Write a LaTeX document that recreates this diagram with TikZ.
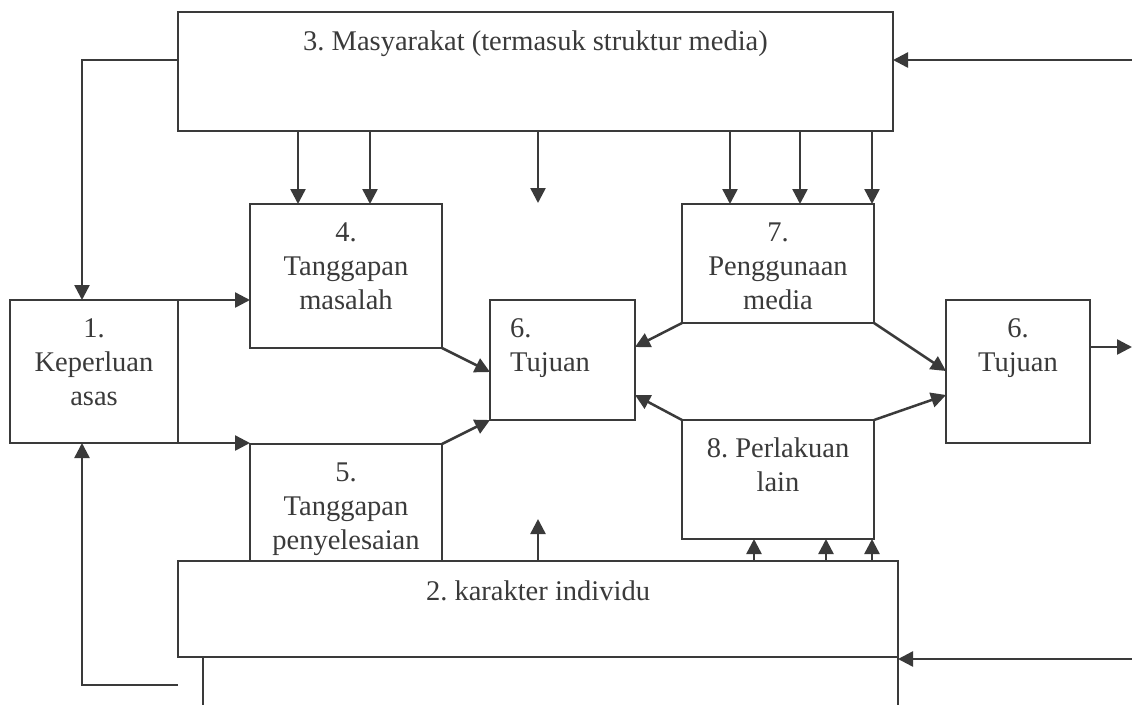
\documentclass[tikz,border=0pt]{standalone}
\usepackage{fontspec}
\setmainfont{Liberation Serif}
\usetikzlibrary{arrows.meta,calc}
\definecolor{ink}{HTML}{3A3A3A}
\frenchspacing
\begin{document}
\begin{tikzpicture}[x=1pt,y=-1pt,
  box/.style={draw=ink, line width=2.5pt, rectangle, inner sep=0pt, outer sep=0pt, anchor=north west},
  txt/.style={text=ink, font=\fontsize{28.5}{34}\selectfont, align=center, inner sep=0pt, anchor=base},
  arr/.style={draw=ink, line width=2.5pt, -{Triangle[length=15pt,width=15pt]}},
  ln/.style={draw=ink, line width=2.5pt}]
\useasboundingbox (0,0) rectangle (1132,705);
% boxes
\node[box, minimum width=715pt, minimum height=119pt] (b3) at (178,12) {};
\node[box, minimum width=168pt, minimum height=143pt] (b1) at (10,300) {};
\node[box, minimum width=192pt, minimum height=144pt] (b4) at (250,204) {};
\node[box, minimum width=192pt, minimum height=117pt] (b5) at (250,444) {};
\node[box, minimum width=145pt, minimum height=120pt] (b6) at (490,300) {};
\node[box, minimum width=192pt, minimum height=119pt] (b7) at (682,204) {};
\node[box, minimum width=192pt, minimum height=119pt] (b8) at (682,420) {};
\node[box, minimum width=144pt, minimum height=143pt] (b6r) at (946,300) {};
\node[box, minimum width=720pt, minimum height=96pt] (b2) at (178,561) {};
% texts (base anchor = baseline of last line)
\node[txt] (t3) at (535.5,50) {3. Masyarakat (termasuk struktur media)};
\node[txt] (t1) at (94,405) {1.\\Keperluan\\asas};
\node[txt] (t4) at (346,309) {4.\\Tanggapan\\masalah};
\node[txt] (t5) at (346,549) {5.\\Tanggapan\\penyelesaian};
\node[txt, align=left, anchor=base west] (t6) at (510,371) {6.\\Tujuan};
\node[txt] (t7) at (778,309) {7.\\Penggunaan\\media};
\node[txt] (t8) at (778,491) {8. Perlakuan\\lain};
\node[txt] (t6r) at (1018,371) {6.\\Tujuan};
\node[txt] (t2) at (538,600) {2. karakter individu};
% free ends
\coordinate (eTR) at (1132,60);
\coordinate (eBR) at (1132,659);
\coordinate (eOut) at (1132,347);
\coordinate (eDown) at (538,203);
\coordinate (eUp) at (538,519);
\coordinate (eHook) at (178,685);
\coordinate (eL) at (203,705);
\coordinate (eR) at (898,705);
% connectors from society box
\draw[arr] ($(b3.north west)+(0,48)$) -| ($(b1.north west)+(72,0)$);
\draw[arr] (eTR) -- (b3.east |- eTR);
\draw[arr] ($(b3.south west)+(120,0)$) -- ($(b4.north west)+(48,0)$);
\draw[arr] ($(b3.south west)+(192,0)$) -- ($(b4.north west)+(120,0)$);
\draw[arr] ($(b3.south west)+(360,0)$) -- (eDown);
\draw[arr] ($(b3.south west)+(552,0)$) -- ($(b7.north west)+(48,0)$);
\draw[arr] ($(b3.south west)+(622,0)$) -- ($(b7.north west)+(118,0)$);
\draw[arr] ($(b3.south west)+(694,0)$) -- ($(b7.north west)+(190,0)$);
% needs to responses
\draw[arr] (b1.north east) -- (b4.west |- b1.north east);
\draw[arr] (b1.south east) -- (b5.west |- b1.south east);
% responses to goals
\draw[arr] (b4.south east) -- ($(b6.north west)+(0,72)$);
\draw[arr] (b5.north east) -- (b6.south west);
% media / other behaviour
\draw[arr] (b7.south west) -- ($(b6.north east)+(0,47)$);
\draw[arr] (b8.north west) -- ($(b6.north east)+(0,95)$);
\draw[arr] (b7.south east) -- ($(b6r.north west)+(0,71)$);
\draw[arr] (b8.north east) -- ($(b6r.north west)+(0,95)$);
\draw[arr] ($(b6r.north east)+(0,47)$) -- (eOut);
% from individual character box
\draw[arr] ($(b2.north west)+(576,0)$) -- ($(b8.south west)+(72,0)$);
\draw[arr] ($(b2.north west)+(648,0)$) -- ($(b8.south west)+(144,0)$);
\draw[arr] ($(b2.north west)+(694,0)$) -- ($(b8.south west)+(190,0)$);
\draw[arr] ($(b2.north west)+(360,0)$) -- (eUp);
\draw[arr] (eBR) -- (b2.east |- eBR);
\draw[ln] (b2.south east) -- (eR);
\draw[ln] ($(b2.south west)+(25,0)$) -- (eL);
\draw[arr] (eHook) -| ($(b1.south west)+(72,0)$);
\end{tikzpicture}
\end{document}
